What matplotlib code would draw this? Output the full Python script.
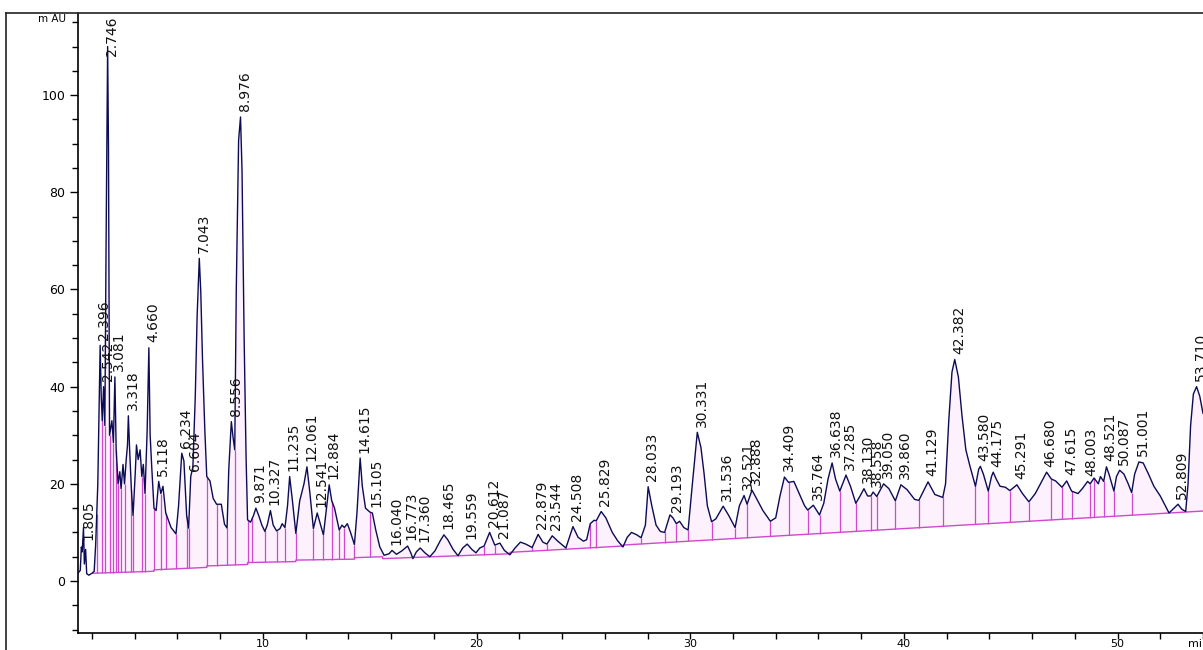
import numpy as np
import matplotlib
matplotlib.use("Agg")
import matplotlib.pyplot as plt
from matplotlib.lines import Line2D
from matplotlib.ticker import MultipleLocator

# chromatogram trace (min, mAU)
trace_t = [1.34, 1.45, 1.50, 1.54, 1.60, 1.64, 1.70, 1.75, 1.85, 2.00, 2.10, 2.17, 2.27, 2.38, 2.43,
           2.48, 2.54, 2.60, 2.66, 2.73, 2.77, 2.82, 2.93, 3.00, 3.07, 3.13, 3.22, 3.30, 3.36, 3.45,
           3.52, 3.60, 3.66, 3.70, 3.76, 3.84, 3.92, 4.02, 4.08, 4.16, 4.25, 4.33, 4.40, 4.48, 4.58,
           4.66, 4.72, 4.80, 4.90, 5.00, 5.12, 5.22, 5.32, 5.45, 5.70, 5.93, 6.05, 6.20, 6.30, 6.43,
           6.52, 6.62, 6.72, 6.83, 6.92, 7.02, 7.09, 7.17, 7.28, 7.37, 7.52, 7.67, 7.83, 8.05, 8.20,
           8.32, 8.40, 8.52, 8.60, 8.68, 8.75, 8.86, 8.95, 9.02, 9.12, 9.21, 9.28, 9.42, 9.55, 9.67,
           9.80, 9.95, 10.09, 10.20, 10.35, 10.48, 10.64, 10.80, 10.90, 11.03, 11.15, 11.25, 11.38, 11.54, 11.72,
           11.92, 12.06, 12.20, 12.36, 12.54, 12.70, 12.83, 13.10, 13.22, 13.35, 13.57, 13.70, 13.81, 13.95, 14.10,
           14.28, 14.40, 14.55, 14.65, 14.80, 15.00, 15.12, 15.28, 15.47, 15.67, 15.90, 16.04, 16.25, 16.50, 16.77,
           16.92, 17.02, 17.18, 17.36, 17.58, 17.81, 18.05, 18.30, 18.47, 18.65, 18.90, 19.13, 19.35, 19.56, 19.78,
           19.97, 20.15, 20.35, 20.61, 20.85, 21.09, 21.30, 21.56, 21.80, 22.05, 22.30, 22.60, 22.88, 23.10, 23.29,
           23.54, 23.80, 24.18, 24.51, 24.75, 25.00, 25.15, 25.32, 25.50, 25.60, 25.83, 26.05, 26.35, 26.60, 26.85,
           27.05, 27.25, 27.50, 27.70, 27.90, 28.03, 28.20, 28.40, 28.60, 28.80, 29.05, 29.19, 29.35, 29.50, 29.70,
           29.90, 30.10, 30.33, 30.50, 30.65, 30.80, 31.00, 31.20, 31.54, 31.80, 32.10, 32.30, 32.52, 32.66, 32.89,
           33.10, 33.40, 33.75, 34.00, 34.20, 34.41, 34.60, 34.85, 35.10, 35.35, 35.50, 35.76, 36.05, 36.25, 36.45,
           36.64, 36.80, 37.00, 37.29, 37.50, 37.75, 37.95, 38.13, 38.30, 38.45, 38.56, 38.73, 39.05, 39.30, 39.60,
           39.86, 40.15, 40.50, 40.70, 41.13, 41.45, 41.82, 41.95, 42.10, 42.25, 42.38, 42.55, 42.72, 42.90, 43.10,
           43.35, 43.50, 43.58, 43.72, 43.95, 44.10, 44.18, 44.32, 44.50, 44.75, 44.96, 45.29, 45.55, 45.85, 46.15,
           46.45, 46.68, 46.90, 47.10, 47.40, 47.62, 47.85, 48.15, 48.35, 48.60, 48.72, 48.90, 49.10, 49.20, 49.35,
           49.48, 49.60, 49.83, 49.95, 50.10, 50.30, 50.50, 50.66, 50.80, 51.00, 51.20, 51.45, 51.70, 52.00, 52.20,
           52.41, 52.60, 52.83, 53.00, 53.19, 53.30, 53.42, 53.55, 53.70, 53.85, 54.00]
trace_v = [1.6, 2.2, 7.0, 6.0, 11.0, 3.5, 6.5, 1.5, 1.2, 1.6, 2.0, 7.5, 20.0, 48.5, 38.0,
           33.0, 40.0, 32.0, 71.0, 110.0, 89.0, 30.0, 33.0, 28.5, 42.0, 27.0, 20.0, 22.5, 19.0, 24.0,
           20.0, 25.0, 28.0, 34.0, 27.0, 19.0, 13.5, 22.0, 28.0, 25.0, 27.0, 21.5, 24.0, 18.0, 31.0,
           48.0, 30.0, 23.0, 15.0, 14.5, 20.5, 18.0, 19.5, 14.0, 11.0, 9.7, 15.5, 26.3, 24.7, 13.4,
           10.9, 21.5, 23.5, 37.7, 54.7, 66.4, 59.5, 45.7, 31.0, 21.5, 20.6, 17.0, 15.8, 15.8, 11.7,
           10.9, 23.0, 32.8, 29.6, 27.0, 59.5, 90.7, 95.5, 84.6, 49.8, 25.5, 12.6, 12.1, 13.4, 15.0,
           13.5, 11.5, 10.2, 11.5, 14.5, 11.5, 10.3, 10.8, 11.8, 11.0, 15.5, 21.5, 16.5, 9.8, 16.5,
           20.0, 23.5, 18.0, 10.8, 14.0, 11.5, 9.5, 19.8, 16.5, 15.0, 10.5, 11.5, 11.0, 11.8, 10.0,
           7.5, 14.0, 25.3, 19.5, 15.0, 14.2, 14.0, 10.5, 7.0, 5.3, 5.6, 6.3, 5.5, 6.2, 7.2,
           5.8, 4.6, 6.0, 6.8, 5.8, 5.0, 6.2, 8.3, 9.5, 8.5, 6.5, 5.2, 6.8, 7.6, 6.5,
           5.8, 6.8, 7.2, 10.0, 7.4, 7.8, 6.3, 5.4, 6.8, 8.0, 7.6, 6.9, 9.6, 8.0, 7.6,
           9.3, 8.2, 6.8, 11.2, 9.0, 8.2, 8.5, 11.8, 12.5, 12.4, 14.3, 13.0, 10.0, 8.3, 7.0,
           9.0, 10.0, 9.5, 8.9, 11.5, 19.4, 15.5, 11.5, 10.2, 10.0, 13.6, 13.0, 11.8, 12.3, 11.0,
           10.5, 20.0, 30.6, 27.5, 22.0, 15.5, 12.2, 12.8, 15.4, 13.5, 11.0, 15.5, 17.6, 15.8, 18.7,
           17.0, 14.5, 12.3, 13.0, 17.5, 21.4, 20.3, 20.5, 18.0, 15.5, 14.6, 15.6, 13.6, 16.0, 21.0,
           24.3, 21.0, 18.5, 21.8, 19.5, 16.0, 17.5, 19.0, 17.5, 17.5, 18.3, 17.4, 20.0, 19.0, 16.5,
           19.8, 18.8, 16.8, 16.6, 20.4, 17.8, 17.2, 20.0, 33.0, 43.0, 45.6, 42.0, 34.0, 27.0, 23.5,
           19.5, 23.0, 23.6, 22.0, 18.5, 21.5, 22.4, 21.0, 19.5, 19.3, 18.6, 19.8, 18.0, 16.3, 18.0,
           20.5, 22.4, 21.0, 20.6, 19.3, 20.6, 18.5, 18.0, 19.0, 20.5, 20.0, 21.2, 20.0, 21.5, 20.5,
           23.5, 22.0, 18.5, 21.5, 22.8, 22.0, 20.0, 18.2, 22.0, 24.5, 24.3, 22.0, 19.5, 17.5, 15.8,
           14.0, 14.8, 15.8, 14.8, 14.3, 20.0, 32.0, 38.5, 40.0, 38.0, 34.5]

# integration baseline
base_t = [2.05, 4.90, 4.90, 7.37, 7.37, 9.28, 9.28, 11.54, 11.54, 14.28, 14.28, 15.60, 15.60,
          21.56, 21.56, 26.85, 26.85, 54.0]
base_v = [1.6, 2.0, 2.3, 2.8, 3.1, 3.4, 3.8, 4.0, 4.3, 4.5, 4.8, 5.0, 4.6,
          5.6, 5.9, 7.2, 7.4, 14.4]

# peak boundaries (drop lines)
drop_t = [2.22, 2.45, 2.60, 2.82, 3.00, 3.13, 3.22, 3.36, 3.52, 3.84, 3.92, 4.33, 4.48, 4.90,
          5.22, 5.45, 5.93, 6.43, 6.52, 7.37, 7.83, 8.32, 8.68, 9.28, 9.50, 10.09, 10.64, 11.03,
          11.54, 12.36, 12.83, 13.22, 13.57, 13.81, 14.28, 15.00, 20.35, 20.85, 22.60, 23.29,
          24.18, 25.32, 25.60, 27.70, 28.80, 29.35, 29.90, 31.00, 32.10, 32.66, 33.75, 34.60,
          35.50, 36.05, 37.00, 37.75, 38.45, 38.73, 39.60, 40.70, 41.82, 43.35, 43.95, 44.96,
          45.85, 46.90, 47.40, 47.85, 48.72, 48.90, 49.35, 49.83, 50.66, 52.41, 53.19]

peak_labels = ['1.805', '2.396', '2.542', '2.746', '3.081', '3.318', '4.660', '5.118', '6.234',
               '6.604', '7.043', '8.556', '8.976', '9.871', '10.327', '11.235', '12.061', '12.541',
               '12.884', '14.615', '15.105', '16.040', '16.773', '17.360', '18.465', '19.559',
               '20.612', '21.087', '22.879', '23.544', '24.508', '25.829', '28.033', '29.193',
               '30.331', '31.536', '32.521', '32.888', '34.409', '35.764', '36.638', '37.285',
               '38.130', '38.558', '39.050', '39.860', '41.129', '42.382', '43.580', '44.175',
               '45.291', '46.680', '47.615', '48.003', '48.521', '50.087', '51.001', '52.809',
               '53.710']
peak_pos = [1.62, 2.38, 2.54, 2.73, 3.07, 3.70, 4.66, 5.12, 6.20,
            6.62, 7.02, 8.52, 8.95, 9.67, 10.35, 11.25, 12.06, 12.54,
            13.10, 14.55, 15.12, 16.04, 16.77, 17.36, 18.47, 19.56,
            20.61, 21.09, 22.88, 23.54, 24.51, 25.83, 28.03, 29.19,
            30.33, 31.54, 32.52, 32.89, 34.41, 35.76, 36.64, 37.29,
            38.13, 38.56, 39.05, 39.86, 41.13, 42.38, 43.58, 44.18,
            45.29, 46.68, 47.62, 48.60, 49.48, 50.10, 51.00, 52.83,
            53.70]

trace_color = '#0c0c55'
pink = '#d048d0'

fig = plt.figure(figsize=(12.03, 6.5), dpi=100)
ax = fig.add_axes([78 / 1203, 17 / 650, 1 - 78 / 1203, 620 / 650])

tt = np.array(trace_t)
tv = np.array(trace_v)
bl = np.interp(tt, base_t, base_v)
mask = tt >= base_t[0]
ax.fill_between(tt, bl, tv, where=mask & (tv > bl), interpolate=True,
                color='#fcf1fc', lw=0, zorder=1)
ax.plot(base_t, base_v, color=pink, lw=1.0, zorder=2)
ax.vlines(drop_t, np.interp(drop_t, base_t, base_v), np.interp(drop_t, trace_t, trace_v),
          color=pink, lw=0.9, zorder=2)
ax.plot(tt, tv, color=trace_color, lw=1.0, zorder=3)

ax.set_xlim(1.343, 54.0)
ax.set_ylim(-10.7, 116.9)

for lab, pos in zip(peak_labels, peak_pos):
    h = np.interp(pos, trace_t, trace_v)
    h = min(h, 107.0)
    ax.annotate(lab, (pos, h), xytext=(3, 4), textcoords='offset points',
                rotation=90, ha='center', va='bottom', fontsize=10,
                color='#111111', zorder=4)

ax.spines['top'].set_visible(False)
ax.spines['right'].set_visible(False)
ax.spines['left'].set_linewidth(1.2)
ax.spines['bottom'].set_linewidth(1.2)
ax.xaxis.set_major_locator(MultipleLocator(10))
ax.xaxis.set_minor_locator(MultipleLocator(2))
ax.yaxis.set_major_locator(MultipleLocator(20))
ax.yaxis.set_minor_locator(MultipleLocator(5))
ax.set_yticks([0, 20, 40, 60, 80, 100])
ax.tick_params(axis='y', which='major', direction='out', length=6, width=1, labelsize=9, pad=3)
ax.tick_params(axis='y', which='minor', direction='out', length=4, width=1)
ax.tick_params(axis='x', which='major', direction='out', length=4, width=1, labelsize=8, pad=0.5)
ax.tick_params(axis='x', which='minor', direction='out', length=4, width=1)

fig.text(52 / 1203, 1 - 19 / 650, 'm AU', fontsize=7.5, ha='center', va='center')
fig.text(1188 / 1203, 1 - 644 / 650, 'min', fontsize=8, ha='left', va='center')

fig.add_artist(Line2D([6 / 1203, 1], [1 - 13 / 650, 1 - 13 / 650], color='#222222', lw=1.2))
fig.add_artist(Line2D([6 / 1203, 6 / 1203], [0, 1 - 13 / 650], color='#222222', lw=1.2))

fig.savefig('out.png', dpi=100)
